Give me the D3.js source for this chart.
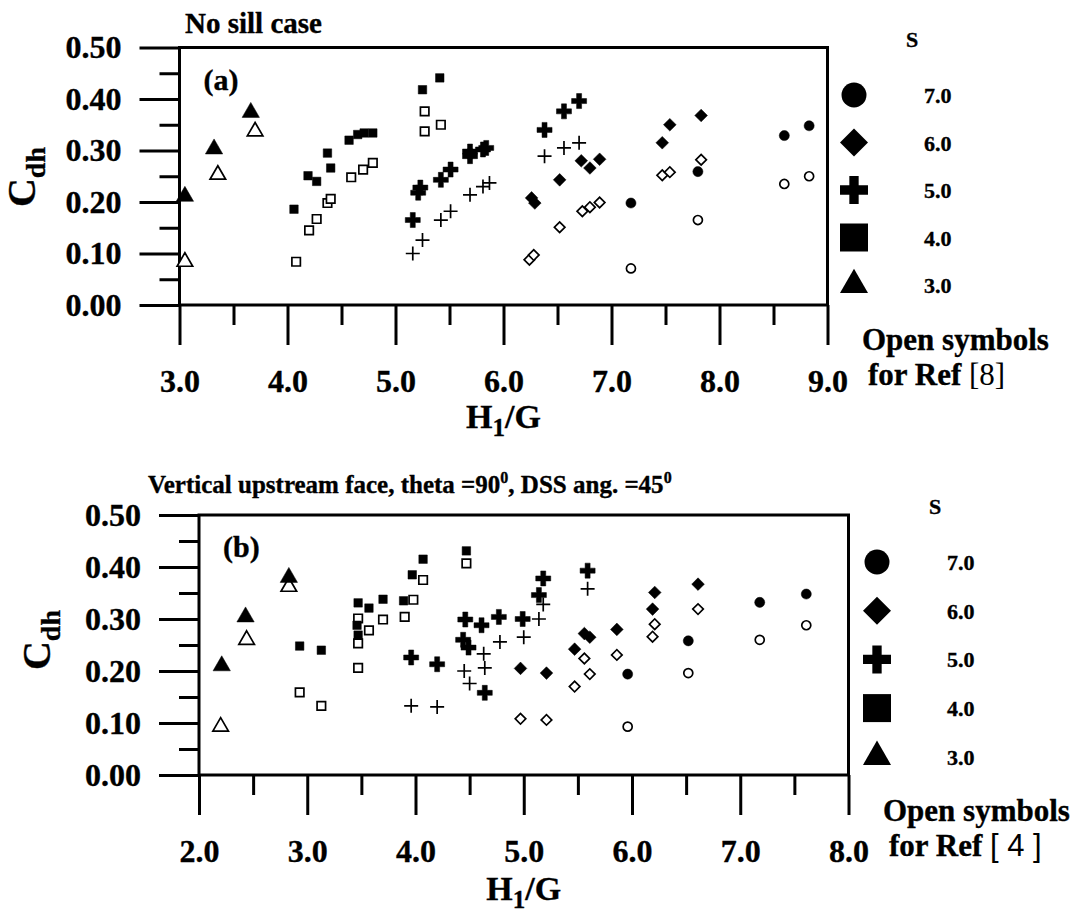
<!DOCTYPE html>
<html><head><meta charset="utf-8">
<script src="https://cdn.jsdelivr.net/npm/d3@7"></script>
<style>body{margin:0;background:#fff}svg{display:block}text{font-family:"Liberation Serif","Times New Roman",serif;font-weight:bold;fill:#000;stroke:#000;stroke-width:0.35px}</style>
</head><body><svg id="c" width="1091" height="915"></svg>
<script>
// ---------- data ----------
const xTicksA = [3, 4, 5, 6, 7, 8, 9];
const xTicksB = [2, 3, 4, 5, 6, 7, 8];
const yTicks = [0, 0.1, 0.2, 0.3, 0.4, 0.5];
const legendLabels = ["7.0", "6.0", "5.0", "4.0", "3.0"];
const legendShapes = ["circle", "diamond", "plus", "square", "triangle"];

// (a) No sill case  [H1/G, Cdh]
const a_s3_filled = [[3.05,0.211],[3.32,0.303],[3.66,0.374]];
const a_s3_open   = [[3.05,0.084],[3.355,0.253],[3.70,0.337]];
const a_s4_filled = [[4.06,0.186],[4.19,0.251],[4.27,0.240],[4.37,0.295],[4.40,0.266],[4.57,0.320],[4.65,0.331],[4.71,0.334],[4.79,0.334],[5.25,0.418],[5.41,0.441]];
const a_s4_open   = [[4.08,0.084],[4.20,0.145],[4.27,0.167],[4.37,0.198],[4.40,0.206],[4.59,0.248],[4.70,0.263],[4.79,0.276],[5.27,0.376],[5.27,0.337],[5.42,0.350]];
const a_s5_filled = [[5.16,0.165],[5.21,0.218],[5.23,0.228],[5.42,0.243],[5.51,0.263],[5.69,0.289],[5.69,0.298],[5.81,0.302],[5.84,0.305],[6.38,0.340],[6.56,0.376],[6.70,0.396]];
const a_s5_open   = [[5.16,0.100],[5.25,0.126],[5.42,0.165],[5.51,0.182],[5.69,0.214],[5.81,0.230],[5.87,0.237],[6.38,0.289],[6.56,0.305],[6.70,0.315]];
const a_s6_filled = [[6.26,0.208],[6.29,0.198],[6.52,0.243],[6.72,0.280],[6.80,0.266],[6.89,0.283],[7.47,0.315],[7.54,0.350],[7.83,0.368]];
const a_s6_open   = [[6.24,0.088],[6.28,0.097],[6.52,0.151],[6.73,0.182],[6.80,0.190],[6.89,0.199],[7.47,0.252],[7.54,0.258],[7.83,0.282]];
const a_s7_filled = [[7.18,0.198],[7.80,0.259],[8.60,0.329],[8.83,0.348]];
const a_s7_open   = [[7.18,0.071],[7.80,0.165],[8.60,0.235],[8.83,0.250]];

// (b) Vertical upstream face
const b_s3_filled = [[2.21,0.210],[2.43,0.304],[2.83,0.380]];
const b_s3_open   = [[2.20,0.093],[2.44,0.260],[2.83,0.362]];
const b_s4_filled = [[2.93,0.248],[3.13,0.240],[3.47,0.331],[3.46,0.288],[3.47,0.269],[3.57,0.321],[3.70,0.338],[3.89,0.335],[3.97,0.385],[4.07,0.415],[4.47,0.431]];
const b_s4_open   = [[2.93,0.159],[3.13,0.133],[3.47,0.206],[3.47,0.253],[3.47,0.301],[3.57,0.278],[3.70,0.299],[3.90,0.304],[3.98,0.337],[4.07,0.375],[4.47,0.407]];
const b_s5_filled = [[3.96,0.226],[4.20,0.213],[4.46,0.299],[4.44,0.260],[4.49,0.245],[4.61,0.288],[4.64,0.158],[4.77,0.304],[4.99,0.300],[5.14,0.346],[5.18,0.378],[5.59,0.393]];
const b_s5_open   = [[3.96,0.133],[4.20,0.131],[4.45,0.200],[4.50,0.176],[4.64,0.206],[4.63,0.233],[4.78,0.256],[5.00,0.265],[5.14,0.300],[5.18,0.328],[5.59,0.358]];
const b_s6_filled = [[4.97,0.205],[5.21,0.196],[5.47,0.242],[5.56,0.272],[5.61,0.265],[5.86,0.280],[6.19,0.319],[6.21,0.351],[6.61,0.367]];
const b_s6_open   = [[4.97,0.108],[5.21,0.106],[5.47,0.170],[5.56,0.224],[5.61,0.194],[5.86,0.231],[6.19,0.266],[6.21,0.290],[6.61,0.319]];
const b_s7_filled = [[5.96,0.194],[6.52,0.258],[7.18,0.332],[7.61,0.348]];
const b_s7_open   = [[5.96,0.093],[6.52,0.196],[7.18,0.260],[7.61,0.288]];

// ---------- drawing ----------
const svg = d3.select("#c");

function symPath(shape, filled, big) {
  if (shape === "circle") return d3.symbol(d3.symbolCircle, big ? 490 : (filled ? 80 : 64))();
  if (shape === "square") return d3.symbol(d3.symbolSquare, big ? 784 : 72)();
  if (shape === "diamond") return d3.symbol(d3.symbolSquare, big ? 392 : (filled ? 80 : 56))();
  if (shape === "triangle") return d3.symbol(d3.symbolTriangle, big ? 340 : (filled ? 130 : 105))();
  if (shape === "plus") {
    if (filled) return d3.symbol(d3.symbolCross, big ? 435 : 125)();
    return "M-7,0H7M0,-7V7";
  }
}

function drawSeries(g, x, y, data, shape, filled) {
  g.selectAll(null).data(data).enter().append("path")
    .attr("d", symPath(shape, filled, false))
    .attr("transform", d => `translate(${x(d[0])},${y(d[1])})` + (shape === "diamond" ? " rotate(45)" : ""))
    .attr("fill", filled ? "#000" : (shape === "plus" ? "none" : "#fff"))
    .attr("stroke", "#000")
    .attr("stroke-width", filled ? 0.5 : 1.7);
}

function panel(cfg) {
  const x = d3.scaleLinear().domain(cfg.xDomain).range([cfg.left, cfg.right]);
  const y = d3.scaleLinear().domain([0, 0.5]).range([cfg.bottom, cfg.top]);
  const g = svg.append("g");

  // minor ticks
  const minorX = d3.range(cfg.xDomain[0] + 0.5, cfg.xDomain[1], 1);
  g.append("g").attr("transform", `translate(0,${cfg.bottom})`)
    .call(d3.axisBottom(x).tickValues(minorX).tickSize(20).tickFormat(""))
    .call(s => s.select(".domain").remove())
    .selectAll("line").attr("stroke-width", 3);
  g.append("g").attr("transform", `translate(${cfg.left},0)`)
    .call(d3.axisLeft(y).tickValues([0.05, 0.15, 0.25, 0.35, 0.45]).tickSize(20).tickFormat(""))
    .call(s => s.select(".domain").remove())
    .selectAll("line").attr("stroke-width", 3);

  // major ticks
  const xa = g.append("g").attr("transform", `translate(0,${cfg.bottom})`)
    .call(d3.axisBottom(x).tickValues(cfg.xTicks).tickSize(40).tickPadding(24).tickFormat(d3.format(".1f")))
    .call(s => s.select(".domain").remove());
  xa.selectAll("line").attr("stroke-width", 3);
  xa.selectAll("text").attr("font-size", 32).attr("font-family", null).attr("fill", "#000");

  const ya = g.append("g").attr("transform", `translate(${cfg.left},0)`)
    .call(d3.axisLeft(y).tickValues(yTicks).tickSize(40).tickPadding(18).tickFormat(d3.format(".2f")))
    .call(s => s.select(".domain").remove());
  ya.selectAll("line").attr("stroke-width", 3);
  ya.selectAll("text").attr("font-size", 32).attr("font-family", null).attr("fill", "#000");

  // frame
  g.append("rect").attr("x", cfg.left).attr("y", cfg.top)
    .attr("width", cfg.right - cfg.left).attr("height", cfg.bottom - cfg.top)
    .attr("fill", "none").attr("stroke", "#000").attr("stroke-width", 3);

  // data: open first then filled
  const shapes = { s3: "triangle", s4: "square", s5: "plus", s6: "diamond", s7: "circle" };
  for (const key of ["s3", "s4", "s5", "s6", "s7"]) {
    drawSeries(g, x, y, cfg.series[key + "_open"], shapes[key], false);
    drawSeries(g, x, y, cfg.series[key + "_filled"], shapes[key], true);
  }

  // panel label
  g.append("text").attr("x", cfg.left + 24).attr("y", cfg.top + 42).attr("font-size", 30).text(cfg.tag);

  // title
  g.append("text").attr("x", cfg.titleX).attr("y", cfg.titleY).attr("font-size", cfg.titleSize).html(cfg.title);

  // y label
  const yl = g.append("text").attr("transform", `translate(${cfg.ylabX},${cfg.ylabY}) rotate(-90)`)
    .attr("text-anchor", "middle");
  yl.append("tspan").attr("font-size", 40).text("C");
  yl.append("tspan").attr("font-size", 28).attr("dy", 10).text("dh");

  // x label
  const xl = g.append("text").attr("x", (cfg.left + cfg.right) / 2).attr("y", cfg.xlabY).attr("text-anchor", "middle");
  xl.append("tspan").attr("font-size", 34).text("H");
  xl.append("tspan").attr("font-size", 25).attr("dy", 8).text("1");
  xl.append("tspan").attr("font-size", 34).attr("dy", -8).text("/G");

  // legend
  const lg = g.append("g");
  lg.append("text").attr("x", cfg.legX + 58).attr("y", cfg.legY0 - 48).attr("font-size", 22).attr("text-anchor", "middle").text("S");
  legendShapes.forEach((sh, i) => {
    const yy = cfg.legY0 + i * cfg.legDy;
    lg.append("path").attr("d", symPath(sh, true, true))
      .attr("transform", `translate(${cfg.legX},${yy})` + (sh === "diamond" ? " rotate(45)" : ""))
      .attr("fill", "#000");
    lg.append("text").attr("x", cfg.legX + 70).attr("y", yy + 8).attr("font-size", 22).text(legendLabels[i]);
  });
  lg.append("text").attr("x", cfg.openX).attr("y", cfg.openY).attr("font-size", 31).text("Open symbols");
  const rf = lg.append("text").attr("x", cfg.openX + 6).attr("y", cfg.openY + 35).attr("font-size", 31);
  rf.append("tspan").text("for Ref ");
  rf.append("tspan").attr("font-weight", "normal").attr("stroke-width", 0).attr("font-family", cfg.refFont).attr("font-size", 31).text(cfg.ref);
}

panel({
  xDomain: [3, 9], xTicks: xTicksA, left: 179.5, right: 827.5, top: 47.5, bottom: 305,
  tag: "(a)", title: "No sill case", titleX: 185, titleY: 33, titleSize: 29,
  ylabX: 35, ylabY: 177, xlabY: 428,
  legX: 854, legY0: 95, legDy: 47.5, openX: 862, openY: 350, ref: "[8]", refFont: "Liberation Serif",
  series: { s3_filled: a_s3_filled, s3_open: a_s3_open, s4_filled: a_s4_filled, s4_open: a_s4_open,
            s5_filled: a_s5_filled, s5_open: a_s5_open, s6_filled: a_s6_filled, s6_open: a_s6_open,
            s7_filled: a_s7_filled, s7_open: a_s7_open }
});

panel({
  xDomain: [2, 8], xTicks: xTicksB, left: 199, right: 848.5, top: 515, bottom: 775,
  tag: "(b)", title: "Vertical upstream face, theta =90<tspan font-size='16' dy='-10'>0</tspan><tspan dy='10'>, DSS ang. =45</tspan><tspan font-size='16' dy='-10'>0</tspan>",
  titleX: 148, titleY: 493, titleSize: 25,
  ylabX: 50, ylabY: 640, xlabY: 900,
  legX: 877, legY0: 562, legDy: 48.7, openX: 883, openY: 821, ref: "[ 4 ]", refFont: "Liberation Sans",
  series: { s3_filled: b_s3_filled, s3_open: b_s3_open, s4_filled: b_s4_filled, s4_open: b_s4_open,
            s5_filled: b_s5_filled, s5_open: b_s5_open, s6_filled: b_s6_filled, s6_open: b_s6_open,
            s7_filled: b_s7_filled, s7_open: b_s7_open }
});
</script></body></html>
